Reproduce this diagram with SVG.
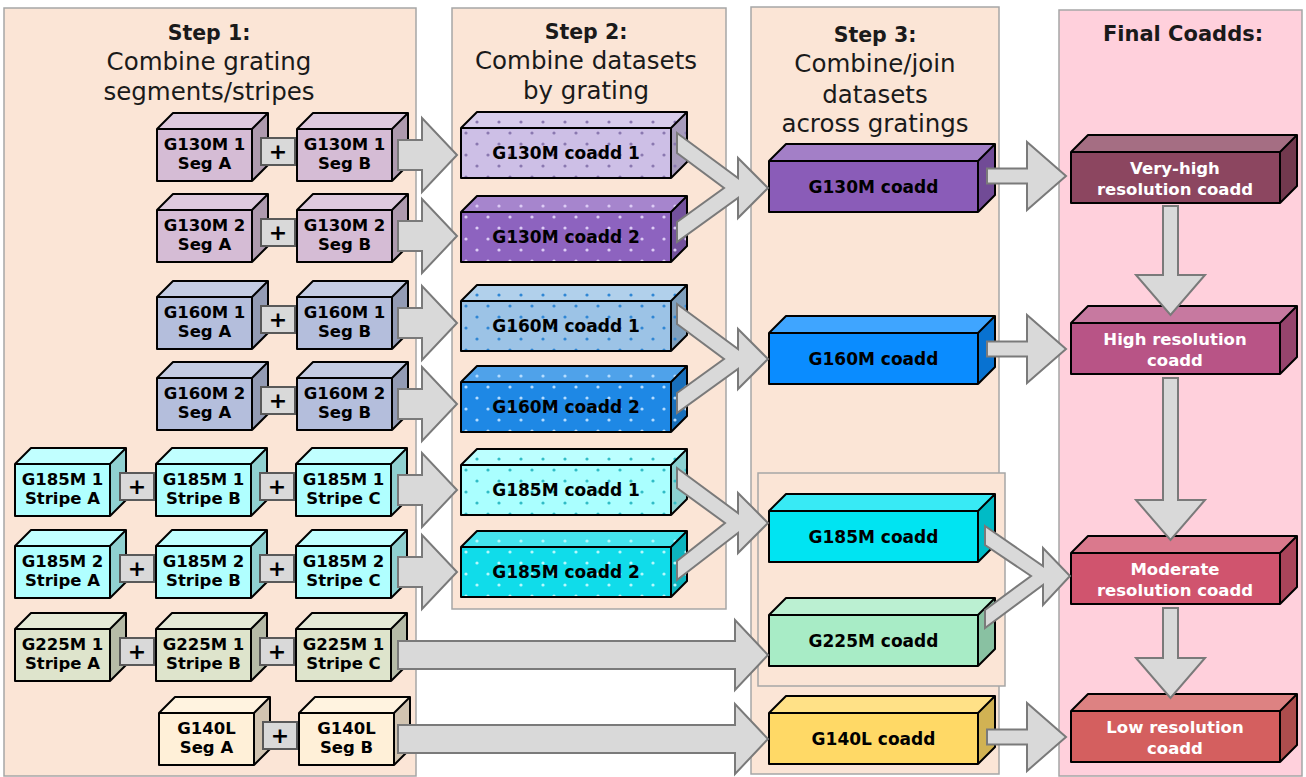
<svg xmlns="http://www.w3.org/2000/svg" xmlns:xlink="http://www.w3.org/1999/xlink" width="1306" height="777" viewBox="0 0 1306 777">
<style>
.panel{fill:#fbe5d6;stroke:#a6a6a6;stroke-width:1.5}
.fin{fill:#ffd0dc;stroke:#a6a6a6;stroke-width:1.5}
.hi{fill:#fff;fill-opacity:.22}
.sh{fill:#000;fill-opacity:.18}
.ol{fill:none;stroke:#000;stroke-width:2;stroke-linejoin:round}
.arr{fill:#d9d9d9;stroke:#7a7a7a;stroke-width:2;stroke-linejoin:miter}
.pr{fill:#d9d9d9;stroke:#595959;stroke-width:2}
text{font-family:"DejaVu Sans","Liberation Sans",sans-serif;text-anchor:middle;fill:#000}
.l{font-weight:bold;font-size:16.5px}
.l2{font-weight:bold;font-size:17px}
.w{fill:#fff}
.pl{font-weight:bold;font-size:22px}
.h{font-size:24.5px;fill:#1a1a1a}
.hb{font-weight:bold;font-size:20.5px;fill:#1a1a1a}
</style>
<defs>
<g id="b1">
<rect width="95" height="52"/>
<polygon points="0,0 16,-16 111,-16 95,0"/>
<polygon points="95,0 111,-16 111,36 95,52"/>
<polygon class="hi" points="0,0 16,-16 111,-16 95,0"/>
<polygon class="sh" points="95,0 111,-16 111,36 95,52"/>
<path class="ol" d="M0,0H95V52H0Z M0,0L16,-16H111L95,0 M111,-16V36L95,52"/>
</g>
<g id="b2">
<rect width="210" height="50"/>
<polygon points="0,0 16,-16 226,-16 210,0"/>
<polygon points="210,0 226,-16 226,34 210,50"/>
<polygon class="hi" points="0,0 16,-16 226,-16 210,0"/>
<polygon class="sh" points="210,0 226,-16 226,34 210,50"/>
</g>
<path id="s2" d="M0,0L16,-16H226V34L210,50H0Z"/>
<path id="o2" class="ol" d="M0,0H210V50H0Z M0,0L16,-16H226L210,0 M226,-16V34L210,50"/>
<g id="b3">
<rect width="209" height="51"/>
<polygon points="0,0 17,-17 226,-17 209,0"/>
<polygon points="209,0 226,-17 226,34 209,51"/>
<polygon class="hi" points="0,0 17,-17 226,-17 209,0"/>
<polygon class="sh" points="209,0 226,-17 226,34 209,51"/>
<path class="ol" d="M0,0H209V51H0Z M0,0L17,-17H226L209,0 M226,-17V34L209,51"/>
</g>
<pattern id="p1" width="22" height="22" patternUnits="userSpaceOnUse"><circle cx="5" cy="5" r="1.6" fill="#8a78b0"/><circle cx="16" cy="16" r="1.6" fill="#8a78b0"/></pattern>
<pattern id="p2" width="22" height="22" patternUnits="userSpaceOnUse"><circle cx="5" cy="5" r="1.6" fill="#dccbf5"/><circle cx="16" cy="16" r="1.6" fill="#dccbf5"/></pattern>
<pattern id="p3" width="22" height="22" patternUnits="userSpaceOnUse"><circle cx="5" cy="5" r="1.6" fill="#2f86d4"/><circle cx="16" cy="16" r="1.6" fill="#2f86d4"/></pattern>
<pattern id="p4" width="22" height="22" patternUnits="userSpaceOnUse"><circle cx="5" cy="5" r="1.6" fill="#b4dcff"/><circle cx="16" cy="16" r="1.6" fill="#b4dcff"/></pattern>
<pattern id="p5" width="22" height="22" patternUnits="userSpaceOnUse"><circle cx="5" cy="5" r="1.6" fill="#30bcc6"/><circle cx="16" cy="16" r="1.6" fill="#30bcc6"/></pattern>
<pattern id="p6" width="22" height="22" patternUnits="userSpaceOnUse"><circle cx="5" cy="5" r="1.6" fill="#b4f8fc"/><circle cx="16" cy="16" r="1.6" fill="#b4f8fc"/></pattern>
</defs>

<rect width="1306" height="777" fill="#fff"/>

<g id="panels">
<rect class="panel" x="4" y="8" width="412" height="768"/>
<rect class="panel" x="452" y="8" width="274" height="601"/>
<rect class="panel" x="751" y="7" width="248" height="767"/>
<rect class="panel" x="758" y="473" width="247" height="213"/>
<rect class="fin" x="1059" y="10" width="243" height="766"/>
</g>

<g id="headers">
<text class="hb" x="209" y="40">Step 1:</text>
<text class="h" x="209" y="70">Combine grating</text>
<text class="h" x="209" y="100">segments/stripes</text>
<text class="hb" x="586" y="39">Step 2:</text>
<text class="h" x="586" y="69">Combine datasets</text>
<text class="h" x="586" y="99">by grating</text>
<text class="hb" x="875" y="42">Step 3:</text>
<text class="h" x="875" y="72">Combine/join</text>
<text class="h" x="875" y="103">datasets</text>
<text class="h" x="875" y="132">across gratings</text>
<text class="hb" x="1183" y="41" style="font-size:21px">Final Coadds:</text>
</g>

<g id="step1">
<g id="g130m1a"><use xlink:href="#b1" x="157" y="129" fill="#d5bcd5"/><text class="l" x="204.5" y="150">G130M 1</text><text class="l" x="204.5" y="169">Seg A</text></g>
<g id="g130m1b"><use xlink:href="#b1" x="297" y="129" fill="#d5bcd5"/><text class="l" x="344.5" y="150">G130M 1</text><text class="l" x="344.5" y="169">Seg B</text></g>
<g id="g130m2a"><use xlink:href="#b1" x="157" y="210" fill="#d5bcd5"/><text class="l" x="204.5" y="231">G130M 2</text><text class="l" x="204.5" y="250">Seg A</text></g>
<g id="g130m2b"><use xlink:href="#b1" x="297" y="210" fill="#d5bcd5"/><text class="l" x="344.5" y="231">G130M 2</text><text class="l" x="344.5" y="250">Seg B</text></g>
<g id="g160m1a"><use xlink:href="#b1" x="157" y="297" fill="#b4bedc"/><text class="l" x="204.5" y="318">G160M 1</text><text class="l" x="204.5" y="337">Seg A</text></g>
<g id="g160m1b"><use xlink:href="#b1" x="297" y="297" fill="#b4bedc"/><text class="l" x="344.5" y="318">G160M 1</text><text class="l" x="344.5" y="337">Seg B</text></g>
<g id="g160m2a"><use xlink:href="#b1" x="157" y="378" fill="#b4bedc"/><text class="l" x="204.5" y="399">G160M 2</text><text class="l" x="204.5" y="418">Seg A</text></g>
<g id="g160m2b"><use xlink:href="#b1" x="297" y="378" fill="#b4bedc"/><text class="l" x="344.5" y="399">G160M 2</text><text class="l" x="344.5" y="418">Seg B</text></g>
<g id="g185m1a"><use xlink:href="#b1" x="15" y="464" fill="#b0ffff"/><text class="l" x="62.5" y="485">G185M 1</text><text class="l" x="62.5" y="504">Stripe A</text></g>
<g id="g185m1b"><use xlink:href="#b1" x="156" y="464" fill="#b0ffff"/><text class="l" x="203.5" y="485">G185M 1</text><text class="l" x="203.5" y="504">Stripe B</text></g>
<g id="g185m1c"><use xlink:href="#b1" x="296" y="464" fill="#b0ffff"/><text class="l" x="343.5" y="485">G185M 1</text><text class="l" x="343.5" y="504">Stripe C</text></g>
<g id="g185m2a"><use xlink:href="#b1" x="15" y="546" fill="#b0ffff"/><text class="l" x="62.5" y="567">G185M 2</text><text class="l" x="62.5" y="586">Stripe A</text></g>
<g id="g185m2b"><use xlink:href="#b1" x="156" y="546" fill="#b0ffff"/><text class="l" x="203.5" y="567">G185M 2</text><text class="l" x="203.5" y="586">Stripe B</text></g>
<g id="g185m2c"><use xlink:href="#b1" x="296" y="546" fill="#b0ffff"/><text class="l" x="343.5" y="567">G185M 2</text><text class="l" x="343.5" y="586">Stripe C</text></g>
<g id="g225m1a"><use xlink:href="#b1" x="15" y="629" fill="#dee4cc"/><text class="l" x="62.5" y="650">G225M 1</text><text class="l" x="62.5" y="669">Stripe A</text></g>
<g id="g225m1b"><use xlink:href="#b1" x="156" y="629" fill="#dee4cc"/><text class="l" x="203.5" y="650">G225M 1</text><text class="l" x="203.5" y="669">Stripe B</text></g>
<g id="g225m1c"><use xlink:href="#b1" x="296" y="629" fill="#dee4cc"/><text class="l" x="343.5" y="650">G225M 1</text><text class="l" x="343.5" y="669">Stripe C</text></g>
<g id="g140la"><use xlink:href="#b1" x="159" y="713" fill="#fff0d8"/><text class="l" x="206.5" y="734">G140L</text><text class="l" x="206.5" y="753">Seg A</text></g>
<g id="g140lb"><use xlink:href="#b1" x="299" y="713" fill="#fff0d8"/><text class="l" x="346.5" y="734">G140L</text><text class="l" x="346.5" y="753">Seg B</text></g>
</g>

<g id="plus">
<rect class="pr" x="261" y="138" width="34" height="27"/><text class="pl" x="278" y="159">+</text>
<rect class="pr" x="261" y="219" width="34" height="27"/><text class="pl" x="278" y="240">+</text>
<rect class="pr" x="261" y="306" width="34" height="27"/><text class="pl" x="278" y="327">+</text>
<rect class="pr" x="261" y="387" width="34" height="27"/><text class="pl" x="278" y="408">+</text>
<rect class="pr" x="120" y="473" width="34" height="27"/><text class="pl" x="137" y="494">+</text>
<rect class="pr" x="260" y="473" width="34" height="27"/><text class="pl" x="277" y="494">+</text>
<rect class="pr" x="120" y="555" width="34" height="27"/><text class="pl" x="137" y="576">+</text>
<rect class="pr" x="260" y="555" width="34" height="27"/><text class="pl" x="277" y="576">+</text>
<rect class="pr" x="120" y="638" width="34" height="27"/><text class="pl" x="137" y="659">+</text>
<rect class="pr" x="260" y="638" width="34" height="27"/><text class="pl" x="277" y="659">+</text>
<rect class="pr" x="263" y="722" width="34" height="27"/><text class="pl" x="280" y="743">+</text>
</g>

<g id="step2">
<g id="g130m-c1"><use xlink:href="#b2" x="461" y="128" fill="#cdbfe6"/><use xlink:href="#s2" x="461" y="128" fill="url(#p1)"/><use xlink:href="#o2" x="461" y="128"/><text class="l2" x="566" y="159">G130M coadd 1</text></g>
<g id="g130m-c2"><use xlink:href="#b2" x="461" y="212" fill="#8d63bf"/><use xlink:href="#s2" x="461" y="212" fill="url(#p2)"/><use xlink:href="#o2" x="461" y="212"/><text class="l2" x="566" y="243">G130M coadd 2</text></g>
<g id="g160m-c1"><use xlink:href="#b2" x="461" y="301" fill="#9cc3e6"/><use xlink:href="#s2" x="461" y="301" fill="url(#p3)"/><use xlink:href="#o2" x="461" y="301"/><text class="l2" x="566" y="332">G160M coadd 1</text></g>
<g id="g160m-c2"><use xlink:href="#b2" x="461" y="382" fill="#1e88e5"/><use xlink:href="#s2" x="461" y="382" fill="url(#p4)"/><use xlink:href="#o2" x="461" y="382"/><text class="l2" x="566" y="413">G160M coadd 2</text></g>
<g id="g185m-c1"><use xlink:href="#b2" x="461" y="465" fill="#aaffff"/><use xlink:href="#s2" x="461" y="465" fill="url(#p5)"/><use xlink:href="#o2" x="461" y="465"/><text class="l2" x="566" y="496">G185M coadd 1</text></g>
<g id="g185m-c2"><use xlink:href="#b2" x="461" y="547" fill="#10dcea"/><use xlink:href="#s2" x="461" y="547" fill="url(#p6)"/><use xlink:href="#o2" x="461" y="547"/><text class="l2" x="566" y="578">G185M coadd 2</text></g>
</g>

<g id="step3">
<g id="g130m-coadd"><use xlink:href="#b3" x="769" y="161" fill="#8a5cb8"/><text class="l2" x="873.5" y="192.5">G130M coadd</text></g>
<g id="g160m-coadd"><use xlink:href="#b3" x="769" y="333" fill="#0a8cff"/><text class="l2" x="873.5" y="364.5">G160M coadd</text></g>
<g id="g185m-coadd"><use xlink:href="#b3" x="769" y="511" fill="#00e4f2"/><text class="l2" x="873.5" y="542.5">G185M coadd</text></g>
<g id="g225m-coadd"><use xlink:href="#b3" x="769" y="615" fill="#a8ecc6"/><text class="l2" x="873.5" y="646.5">G225M coadd</text></g>
<g id="g140l-coadd"><use xlink:href="#b3" x="769" y="713" fill="#ffd966"/><text class="l2" x="873.5" y="744.5">G140L coadd</text></g>
</g>

<g id="final">
<g id="very-high"><use xlink:href="#b3" x="1071" y="152" fill="#8c4660"/><text class="l w" x="1175" y="174">Very-high</text><text class="l w" x="1175" y="195">resolution coadd</text></g>
<g id="high"><use xlink:href="#b3" x="1071" y="323" fill="#b85486"/><text class="l w" x="1175" y="345">High resolution</text><text class="l w" x="1175" y="366">coadd</text></g>
<g id="moderate"><use xlink:href="#b3" x="1071" y="553" fill="#d0546e"/><text class="l w" x="1175" y="575">Moderate</text><text class="l w" x="1175" y="596">resolution coadd</text></g>
<g id="low"><use xlink:href="#b3" x="1071" y="711" fill="#d45f5f"/><text class="l w" x="1175" y="733">Low resolution</text><text class="l w" x="1175" y="754">coadd</text></g>
</g>

<g id="connectors">
<path class="arr" d="M398,140H422V118L457,155L422,192V170H398Z"/>
<path class="arr" d="M398,221H422V199L457,236L422,273V251H398Z"/>
<path class="arr" d="M398,308H422V286L457,323L422,360V338H398Z"/>
<path class="arr" d="M398,389H422V367L457,404L422,441V419H398Z"/>
<path class="arr" d="M398,475H422V453L457,490L422,527V505H398Z"/>
<path class="arr" d="M398,557H422V535L457,572L422,609V587H398Z"/>
<path class="arr" d="M398,641H735V620L768,655L735,690V669H398Z"/>
<path class="arr" d="M398,725H735V704L768,739L735,774V753H398Z"/>
<path class="arr" d="M677,133L738,178V158L768,188L738,218V198L677,242V222L724,188L677,153Z"/>
<path class="arr" d="M677,304L738,349V329L768,359L738,389V369L677,413V393L724,359L677,324Z"/>
<path class="arr" d="M677,468L738,513V493L768,523L738,553V533L677,580V561L725,523L677,488Z"/>
<path class="arr" d="M985,526L1043,566V548L1070,576L1043,605V585L985,628V610L1031,576L985,545Z"/>
<path class="arr" d="M987,168.5H1027V142L1066,176L1027,210V183.5H987Z"/>
<path class="arr" d="M987,341.5H1027V315L1066,349L1027,383V356.5H987Z"/>
<path class="arr" d="M987,729.5H1027V703L1066,737L1027,771V744.5H987Z"/>
<path class="arr" d="M1163,206H1178V275H1205L1170.5,315L1136,275H1163Z"/>
<path class="arr" d="M1163,378H1178V500H1205L1170.5,540L1136,500H1163Z"/>
<path class="arr" d="M1163,608H1178V658H1205L1170.5,698L1136,658H1163Z"/>
</g>
</svg>
